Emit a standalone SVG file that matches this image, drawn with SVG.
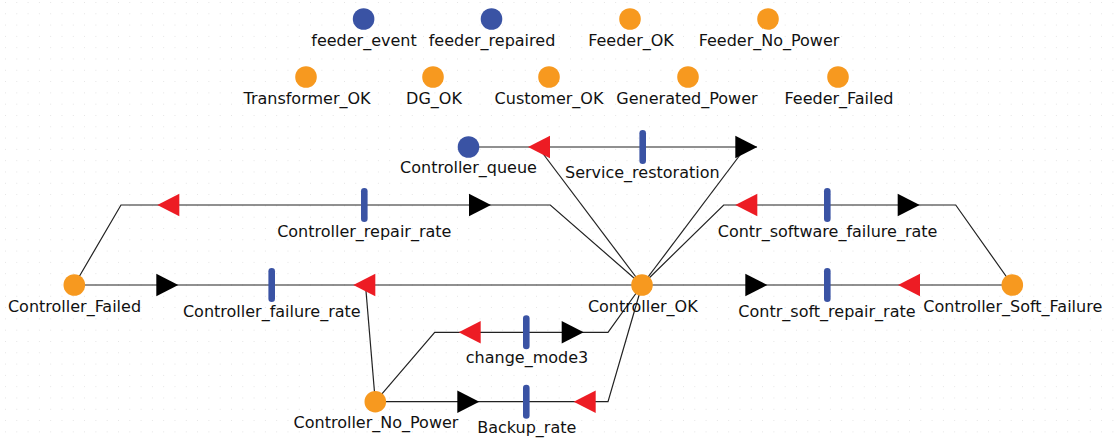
<svg xmlns="http://www.w3.org/2000/svg" xmlns:xlink="http://www.w3.org/1999/xlink" width="1117" height="440" viewBox="0 0 1117 440">
<style>
  text { font-family: "DejaVu Sans", "Noto Sans", sans-serif; font-size: 16px; fill: #111; text-anchor: middle; }
  .orange { fill: #F7991F; }
  .blue { fill: #3A53A4; }
  .line { fill: none; stroke: #222; stroke-width: 1.2; }
  .red { fill: #ED1C24; }
  .blk { fill: #000; }
  .bar { fill: #3A53A4; }
</style>
<defs>
  <pattern id="grid" x="5" y="2" width="11.3" height="11.3" patternUnits="userSpaceOnUse">
    <rect x="-0.5" y="-0.5" width="1" height="1" fill="#9a9a9a"/>
  </pattern>
  <path id="arrR" d="M0,0 L-22,-11.3 L-22,11.3 Z"/>
  <path id="arrL" d="M0,0 L22,-11.3 L22,11.3 Z"/>
  <rect id="tbar" x="-3.3" y="-17" width="6.6" height="34" rx="3.3"/>
</defs>
<rect width="1117" height="440" fill="#fff"/>
<rect width="1117" height="440" fill="url(#grid)"/>

<g id="connectors">
  <line class="line" x1="468.5" y1="147" x2="757" y2="147"/>
  <line class="line" x1="538" y1="147" x2="642" y2="285"/>
  <line class="line" x1="642" y1="285" x2="746" y2="147"/>
  <polyline class="line" points="642,285 550.3,205 121,205 74.3,285"/>
  <polyline class="line" points="642,285 723.7,205 955.7,205 1012.3,285"/>
  <line class="line" x1="74.3" y1="285" x2="1012.3" y2="285"/>
  <line class="line" x1="365.5" y1="285" x2="375.3" y2="401.7"/>
  <polyline class="line" points="375.3,401.7 434.7,332.3 608,332.3 642,285"/>
  <polyline class="line" points="375.3,401.7 608,401.7 642,285"/>

  <use xlink:href="#arrL" class="red" x="528" y="147"/>
  <use xlink:href="#arrR" class="blk" x="757.3" y="147"/>
  <use xlink:href="#arrL" class="red" x="157.3" y="205"/>
  <use xlink:href="#arrR" class="blk" x="491" y="205"/>
  <use xlink:href="#arrL" class="red" x="735.3" y="205"/>
  <use xlink:href="#arrR" class="blk" x="919.7" y="205"/>
  <use xlink:href="#arrR" class="blk" x="178.3" y="285"/>
  <use xlink:href="#arrL" class="red" x="353.3" y="285"/>
  <use xlink:href="#arrR" class="blk" x="767.3" y="285"/>
  <use xlink:href="#arrL" class="red" x="898" y="285"/>
  <use xlink:href="#arrL" class="red" x="458.7" y="332.3"/>
  <use xlink:href="#arrR" class="blk" x="583.7" y="332.3"/>
  <use xlink:href="#arrR" class="blk" x="479.3" y="401.7"/>
  <use xlink:href="#arrL" class="red" x="573.7" y="401.7"/>
</g>

<g id="feeder_event"><circle class="blue" cx="363.6" cy="19" r="10.8"/><text x="364" y="45.7">feeder_event</text></g>
<g id="feeder_repaired"><circle class="blue" cx="491.5" cy="19" r="10.8"/><text x="492" y="45.7">feeder_repaired</text></g>
<g id="Feeder_OK"><circle class="orange" cx="630" cy="19" r="10.8"/><text x="631" y="45.7">Feeder_OK</text></g>
<g id="Feeder_No_Power"><circle class="orange" cx="768" cy="19" r="10.8"/><text x="769" y="45.7">Feeder_No_Power</text></g>

<g id="Transformer_OK"><circle class="orange" cx="306" cy="77" r="10.8"/><text x="307" y="103.5">Transformer_OK</text></g>
<g id="DG_OK"><circle class="orange" cx="433" cy="77" r="10.8"/><text x="434" y="103.5">DG_OK</text></g>
<g id="Customer_OK"><circle class="orange" cx="549" cy="77" r="10.8"/><text x="549" y="103.5">Customer_OK</text></g>
<g id="Generated_Power"><circle class="orange" cx="688" cy="77" r="10.8"/><text x="687" y="103.5">Generated_Power</text></g>
<g id="Feeder_Failed"><circle class="orange" cx="838" cy="77" r="10.8"/><text x="839" y="103.5">Feeder_Failed</text></g>

<g id="Controller_queue"><circle class="blue" cx="468.5" cy="147" r="10.8"/><text x="468.5" y="172.7">Controller_queue</text></g>
<g id="Controller_Failed"><circle class="orange" cx="74.3" cy="285" r="10.8"/><text x="74.5" y="311.7">Controller_Failed</text></g>
<g id="Controller_OK"><circle class="orange" cx="642" cy="285" r="10.8"/><text x="642.8" y="311.7">Controller_OK</text></g>
<g id="Controller_Soft_Failure"><circle class="orange" cx="1012.3" cy="285" r="10.8"/><text x="1012.8" y="311.7">Controller_Soft_Failure</text></g>
<g id="Controller_No_Power"><circle class="orange" cx="375.3" cy="401.7" r="10.8"/><text x="376" y="428">Controller_No_Power</text></g>

<g id="Service_restoration"><use xlink:href="#tbar" class="bar" x="642.7" y="147"/><text x="642.3" y="178.3">Service_restoration</text></g>
<g id="Controller_repair_rate"><use xlink:href="#tbar" class="bar" x="364.3" y="205"/><text x="364.3" y="236.7">Controller_repair_rate</text></g>
<g id="Contr_software_failure_rate"><use xlink:href="#tbar" class="bar" x="827.3" y="205"/><text x="827.6" y="236.7">Contr_software_failure_rate</text></g>
<g id="Controller_failure_rate"><use xlink:href="#tbar" class="bar" x="271.7" y="285"/><text x="271.8" y="317.3">Controller_failure_rate</text></g>
<g id="Contr_soft_repair_rate"><use xlink:href="#tbar" class="bar" x="827.3" y="285"/><text x="827" y="317.3">Contr_soft_repair_rate</text></g>
<g id="change_mode3"><use xlink:href="#tbar" class="bar" x="526.3" y="332.3"/><text x="527" y="363.3">change_mode3</text></g>
<g id="Backup_rate"><use xlink:href="#tbar" class="bar" x="526.3" y="401.7"/><text x="526.8" y="432.7">Backup_rate</text></g>
</svg>
